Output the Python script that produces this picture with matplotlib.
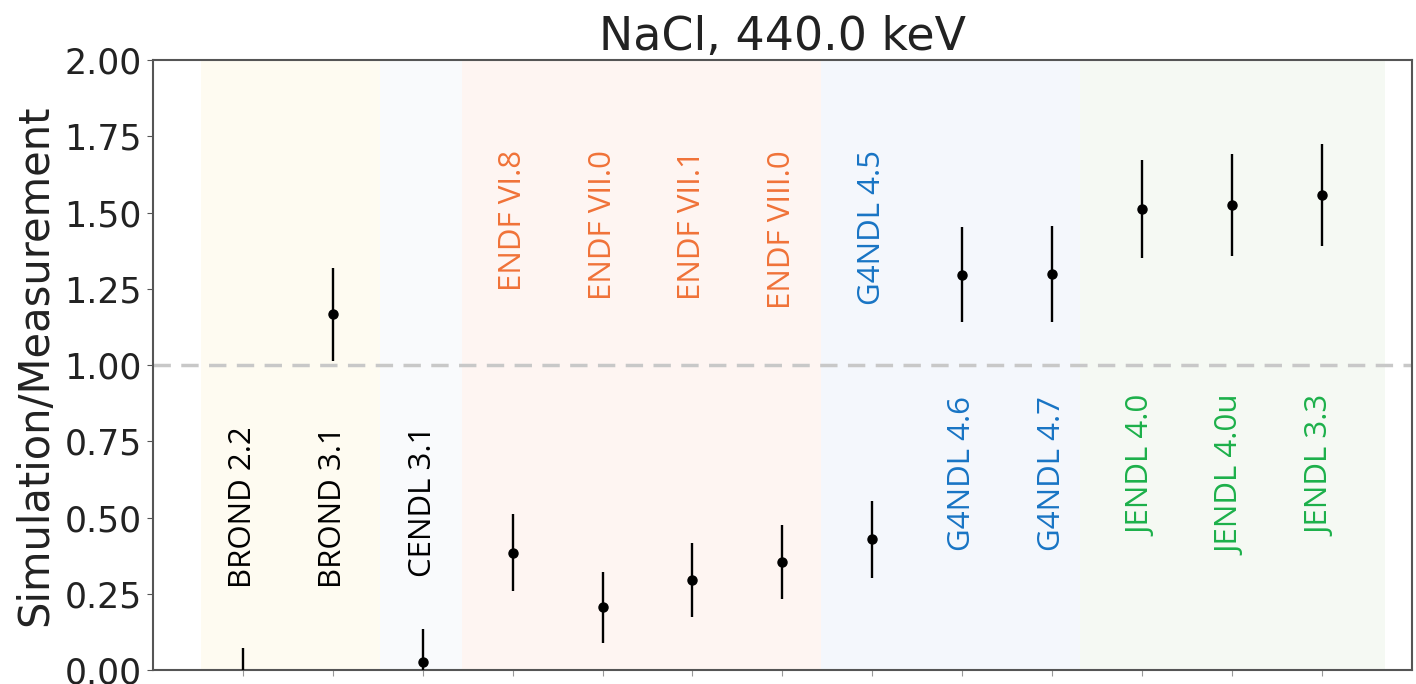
import matplotlib
matplotlib.use("Agg")
import matplotlib.pyplot as plt
import numpy as np

# ---- data ----
libraries = ["BROND 2.2", "BROND 3.1", "CENDL 3.1", "ENDF VI.8", "ENDF VII.0",
             "ENDF VII.1", "ENDF VIII.0", "G4NDL 4.5", "G4NDL 4.6", "G4NDL 4.7",
             "JENDL 4.0", "JENDL 4.0u", "JENDL 3.3"]
families = ["BROND", "BROND", "CENDL", "ENDF", "ENDF", "ENDF", "ENDF",
            "G4NDL", "G4NDL", "G4NDL", "JENDL", "JENDL", "JENDL"]
ratio = [-0.035, 1.167, 0.026, 0.385, 0.205, 0.295, 0.354,
         0.428, 1.297, 1.298, 1.512, 1.524, 1.557]
ratio_err = [0.107, 0.152, 0.108, 0.125, 0.116, 0.121, 0.122,
             0.126, 0.157, 0.157, 0.162, 0.167, 0.168]
title = "NaCl, 440.0 keV"
ylabel = "Simulation/Measurement"

# ---- styles / layout ----
text_colors = {"BROND": "black", "CENDL": "black", "ENDF": "#f07238",
               "G4NDL": "#1874c4", "JENDL": "#1cb04a"}
band_colors = {"BROND": "#fefbf1", "CENDL": "#f9fafc", "ENDF": "#fef5f2",
               "G4NDL": "#f4f7fc", "JENDL": "#f5f9f3"}
band_edges = [("BROND", -0.47, 1.52), ("CENDL", 1.52, 2.44), ("ENDF", 2.44, 6.43),
              ("G4NDL", 6.43, 9.31), ("JENDL", 9.31, 12.70)]
label_top = [0.80, 0.80, 0.80, 1.705, 1.705, 1.705, 1.705, 1.705,
             0.90, 0.90, 0.90, 0.90, 0.90]

fig = plt.figure(figsize=(14.16, 6.84), dpi=100)
ax = fig.add_axes([0.108, 0.0205, 0.889, 0.8915])

x = np.arange(len(libraries))
for fam, a, b in band_edges:
    ax.axvspan(a, b, color=band_colors[fam], zorder=0, lw=0)

ax.axhline(1.0, color="#c8c8c8", lw=2.5, ls=(0, (5, 3)), zorder=1)

ax.errorbar(x, ratio, yerr=ratio_err, fmt="o", color="black", ms=6.5,
            elinewidth=1.7, capsize=0, zorder=3)

for xi, name, fam, yt in zip(x, libraries, families, label_top):
    ax.text(xi, yt, name, rotation=90, ha="center", va="top",
            color=text_colors[fam], fontsize=22.5,
            family=["Open Sans", "DejaVu Sans"], zorder=4)

ax.set_xlim(-1, len(libraries))
ax.set_ylim(0, 2)
ax.set_xticks(x)
ax.set_xticklabels([])
ax.set_yticks([0, 0.25, 0.5, 0.75, 1.0, 1.25, 1.5, 1.75, 2.0])
ax.set_yticklabels(["0.00", "0.25", "0.50", "0.75", "1.00", "1.25", "1.50", "1.75", "2.00"])
ax.tick_params(axis="y", labelsize=25, length=4, color="#555555", pad=4,
               labelcolor="#222222")
ax.tick_params(axis="x", length=4, color="#999999")
for s in ax.spines.values():
    s.set_color("#555555")
    s.set_linewidth(1.5)
ax.set_ylabel(ylabel, fontsize=30, labelpad=6, color="#222222")
ax.set_title(title, fontsize=33, pad=5, color="#222222")

fig.savefig("out.png", dpi=100)
